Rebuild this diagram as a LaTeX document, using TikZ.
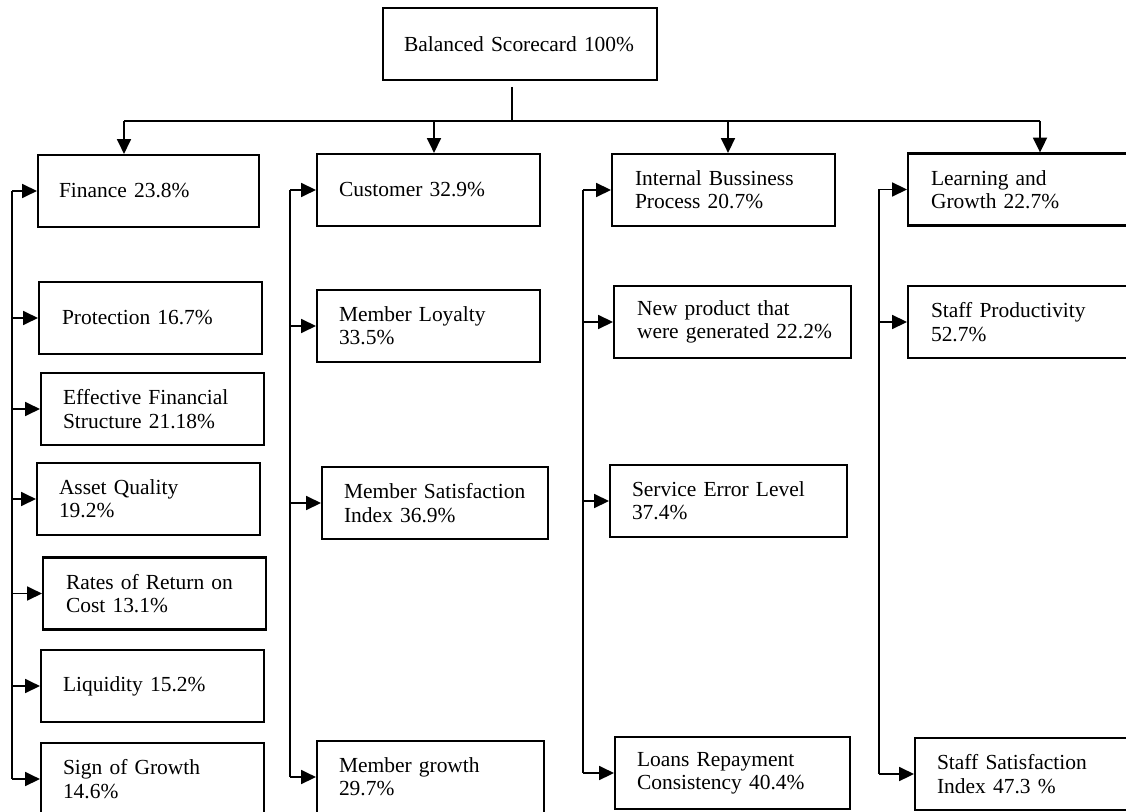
\documentclass[tikz,border=0pt]{standalone}
\usepackage{fontspec}
\setmainfont{Liberation Serif}
\usetikzlibrary{arrows.meta}
\begin{document}
\begin{tikzpicture}[x=0.75pt, y=-0.75pt,
  % card: #1 = width, #2 = left text indent (both in px units)
  card/.style 2 args={draw, line width=1.7pt, inner xsep=0pt, inner ysep=0pt,
    minimum width=#1*0.75pt, minimum height=54pt, text width=#1*0.75pt,
    align=left, font=\fontsize{16.1pt}{17.5pt}\selectfont,
    execute at begin node={\pgfmathsetlength\leftskip{#2*0.75pt}}},
  link/.style={line width=1.3pt, -{Triangle[length=11pt,width=10.5pt]}},
  trunk/.style={line width=1.3pt},
  bus/.style={line width=1pt}]
\useasboundingbox (0,0) rectangle (1126,812);

% root
\node[card={274}{21}] (root) at (520,44) {Balanced Scorecard 100\%};

% finance perspective
\node[card={221}{21}] (fin)   at (148.5,191)   {Finance 23.8\%};
\node[card={223}{23}] (prot)  at (150.5,318)   {Protection 16.7\%};
\node[card={223}{22}] (eff)   at (152.5,409)   {Effective Financial\\Structure 21.18\%};
\node[card={223}{22}] (asset) at (148.5,499)   {Asset Quality\\19.2\%};
\node[card={223}{23}] (rates) at (154.5,593.5) {Rates of Return on\\Cost 13.1\%};
\node[card={223}{22}] (liq)   at (152.5,686)   {Liquidity 15.2\%};
\node[card={223}{22}] (sign)  at (152.5,779)   {Sign of Growth\\14.6\%};

% customer perspective
\node[card={223}{22}] (cust)  at (428.5,190) {Customer 32.9\%};
\node[card={223}{22}] (loyal) at (428.5,326) {Member Loyalty\\33.5\%};
\node[card={226}{22}] (msat)  at (435,503)   {Member Satisfaction\\Index 36.9\%};
\node[card={227}{22}] (mgrow) at (430.5,777) {Member growth\\29.7\%};

% internal business process perspective
\node[card={223}{23}] (ibp)   at (723.5,190) {Internal Bussiness\\Process 20.7\%};
\node[card={237}{23}] (newp)  at (732.5,322) {New product that\\were generated 22.2\%};
\node[card={237}{22}] (serv)  at (728.5,501) {Service Error Level\\37.4\%};
\node[card={235}{22}] (loans) at (732.5,773) {Loans Repayment\\Consistency 40.4\%};

% learning and growth perspective
\node[card={240}{23}] (learn)  at (1028,189.5) {Learning and\\Growth 22.7\%};
\node[card={240}{23}] (staffp) at (1028,322)   {Staff Productivity\\52.7\%};
\node[card={240}{22}] (staffs) at (1035,774)   {Staff Satisfaction\\Index 47.3 \%};

% distribution bus from the root
\coordinate (stem) at (512,87);
\coordinate (hub)  at (512,121);
\coordinate (d1) at (124,121);
\coordinate (d2) at (434,121);
\coordinate (d3) at (728,121);
\coordinate (d4) at (1040,121);
\draw[bus] (stem) -- (hub);
\draw[bus] (d1) -- (d4);
\draw[link] (d1) -- (d1 |- fin.north);
\draw[link] (d2) -- (d2 |- cust.north);
\draw[link] (d3) -- (d3 |- ibp.north);
\draw[link] (d4) -- (d4 |- learn.north);

% side trunks
\coordinate (t1) at (12,0);
\coordinate (t2) at (290,0);
\coordinate (t3) at (583,0);
\coordinate (t4) at (879,0);
\draw[trunk] (t1 |- fin.west) -- (t1 |- sign.west);
\draw[trunk] (t2 |- cust.west) -- (t2 |- mgrow.west);
\draw[trunk] (t3 |- ibp.west) -- (t3 |- loans.west);
\draw[trunk] (t4 |- learn.west) -- (t4 |- staffs.west);

\foreach \n in {fin,prot,eff,asset,rates,liq,sign}
  \draw[link] (t1 |- \n.west) -- (\n.west);
\foreach \n in {cust,loyal,msat,mgrow}
  \draw[link] (t2 |- \n.west) -- (\n.west);
\foreach \n in {ibp,newp,serv,loans}
  \draw[link] (t3 |- \n.west) -- (\n.west);
\foreach \n in {learn,staffp,staffs}
  \draw[link] (t4 |- \n.west) -- (\n.west);
\end{tikzpicture}
\end{document}
